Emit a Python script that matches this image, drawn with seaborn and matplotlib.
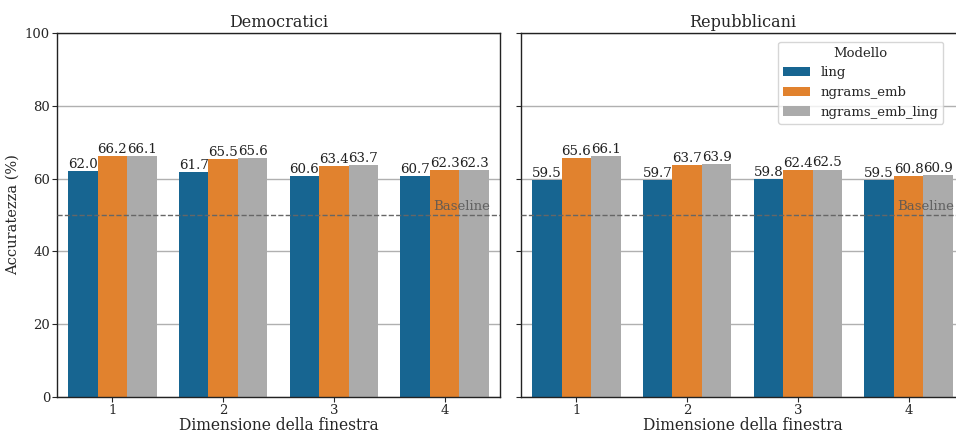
import matplotlib
matplotlib.use("Agg")
import matplotlib.pyplot as plt
import seaborn as sns
import pandas as pd

# Accuracy (%) per window size, model and party
windows = ["1", "2", "3", "4"]
models = ["ling", "ngrams_emb", "ngrams_emb_ling"]
dem_ling = [62.0, 61.7, 60.6, 60.7]
dem_ngrams_emb = [66.2, 65.5, 63.4, 62.3]
dem_ngrams_emb_ling = [66.1, 65.6, 63.7, 62.3]
rep_ling = [59.5, 59.7, 59.8, 59.5]
rep_ngrams_emb = [65.6, 63.7, 62.4, 60.8]
rep_ngrams_emb_ling = [66.1, 63.9, 62.5, 60.9]
baseline = 50.0
colors = ["#176591", "#E1822E", "#ABABAB"]


def long_table(series):
    rows = []
    for model, vals in zip(models, series):
        for w, v in zip(windows, vals):
            rows.append({"Dimensione della finestra": w, "Modello": model, "acc": v})
    return pd.DataFrame(rows)


dem = long_table([dem_ling, dem_ngrams_emb, dem_ngrams_emb_ling])
rep = long_table([rep_ling, rep_ngrams_emb, rep_ngrams_emb_ling])

sns.set_theme(style="white")
plt.rcParams["font.family"] = ["DejaVu Serif"]

fig = plt.figure(figsize=(9.56, 4.32), dpi=100)
W, H = 956, 432
ax1 = fig.add_axes([57 / W, 1 - 397 / H, 443 / W, 364 / H])
ax2 = fig.add_axes([521 / W, 1 - 397 / H, 443 / W, 364 / H], sharey=ax1)

for ax, df, title in [(ax1, dem, "Democratici"), (ax2, rep, "Repubblicani")]:
    sns.barplot(data=df, x="Dimensione della finestra", y="acc", hue="Modello",
                hue_order=models, order=windows, palette=colors, ax=ax,
                width=0.8, saturation=1, errorbar=None, linewidth=0, zorder=2)
    ax.set_ylim(0, 100)
    ax.set_xlim(-0.5, 3.5)
    ax.set_yticks([0, 20, 40, 60, 80, 100])
    ax.yaxis.grid(True, color="#b0b0b0", linewidth=1, zorder=0)
    ax.set_axisbelow(True)
    ax.set_title(title, fontsize=11.5, pad=4)
    ax.set_xlabel("Dimensione della finestra", fontsize=11.2, labelpad=0)
    ax.tick_params(axis="both", labelsize=9.5, length=3.5, width=0.8,
                   left=True, bottom=True, pad=1.5)
    for sp in ax.spines.values():
        sp.set_color("#222222")
        sp.set_linewidth(1.0)
    for cont in ax.containers:
        ax.bar_label(cont, fmt="%.1f", fontsize=9.6, padding=0, color="#222222")
    ax.axhline(baseline, color="#666666", linestyle="--", linewidth=1, zorder=3)
    ax.text(3.41, baseline + 0.6, "Baseline", ha="right", va="bottom",
            fontsize=9.5, color="#555555", alpha=0.85, zorder=4)

ax1.set_ylabel("Accuratezza (%)", fontsize=10.5, labelpad=4)
ax2.set_ylabel("")
ax2.tick_params(axis="y", labelleft=False)
ax1.get_legend().remove()
leg = ax2.get_legend()
leg.remove()
handles, labels = ax2.get_legend_handles_labels()
ax2.legend(handles[:3], labels[:3], title="Modello", loc="upper right",
           bbox_to_anchor=(950 / W, 1 - 35 / H), bbox_transform=fig.transFigure,
           fontsize=9.5, title_fontsize=9.5, frameon=True, framealpha=0.8,
           edgecolor="#cccccc", handlelength=2.0, handleheight=0.7)

fig.savefig("out.png", dpi=100)
